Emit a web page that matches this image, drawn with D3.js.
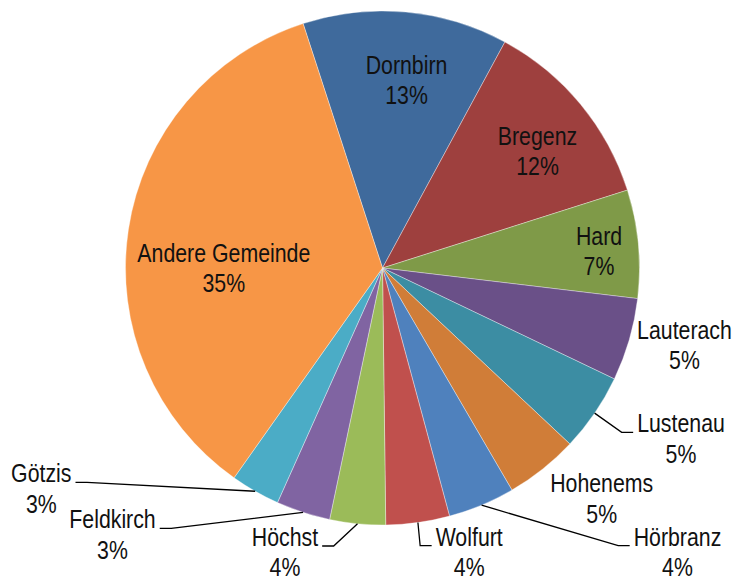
<!DOCTYPE html>
<html>
<head>
<meta charset="utf-8">
<script src="https://cdn.jsdelivr.net/npm/d3@7"></script>
<style>
  html, body { margin: 0; padding: 0; background: #fff; }
  svg { display: block; }
  text { font-family: "Liberation Sans Narrow", "Arial Narrow", "Liberation Sans", Arial, sans-serif; font-size: 26px; fill: #111; }
</style>
</head>
<body>
<svg id="chart" width="748" height="582"></svg>
<script>
// ---- data ----
const categories = ["Dornbirn", "Bregenz", "Hard", "Lauterach", "Lustenau", "Hohenems",
                    "Hörbranz", "Wolfurt", "Höchst", "Feldkirch", "Götzis", "Andere Gemeinde"];
const shares = [12.9, 12.2, 6.8, 5.2, 4.9, 4.6, 4.2, 4.0, 3.5, 3.4, 3.1, 35.2];
const colors = ["#3F6A9C", "#9E403E", "#7F9A48", "#6A5088", "#3C8DA3", "#D07D38",
                "#4F81BD", "#C0504D", "#9BBB59", "#8064A2", "#4BACC6", "#F79646"];

// ---- layout (label anchors: x centre, first-line baseline, leader side) ----
const labelLayout = [
  { x: 406.5, y: 73.5 },
  { x: 537.5, y: 145 },
  { x: 599,   y: 245 },
  { x: 684.5, y: 338.5 },
  { x: 681,   y: 432.3, leader: "left" },
  { x: 601.7, y: 492.3 },
  { x: 677.5, y: 545.7, leader: "left" },
  { x: 469.2, y: 545.7, leader: "left" },
  { x: 285,   y: 546,   leader: "right" },
  { x: 112.5, y: 528.3, leader: "right" },
  { x: 41.3,  y: 482.3, leader: "right" },
  { x: 223.8, y: 261.7 }
];

const cx = 382.5, cy = 268, R = 257;
const lineH = 30.5;
const deg = Math.PI / 180;

const svg = d3.select("#chart");
const g = svg.append("g").attr("transform", `translate(${cx},${cy})`);

const data = categories.map((c, i) => ({ name: c, value: shares[i], color: colors[i], lay: labelLayout[i] }));

const pie = d3.pie().value(d => d.value).sort(null)
  .startAngle(-18 * deg).endAngle(342 * deg);
const arcs = pie(data);
const arc = d3.arc().innerRadius(0).outerRadius(R);

g.selectAll("path.slice").data(arcs).enter().append("path")
  .attr("class", "slice")
  .attr("d", arc)
  .attr("fill", d => d.data.color)
  .attr("stroke", "#ffffff")
  .attr("stroke-opacity", 0.6)
  .attr("stroke-width", 0.6);

// measure to detect narrow font availability
const probe = svg.append("text").text("Lustenau");
const w = probe.node().getComputedTextLength();
probe.remove();
const targetW = 87.7;
const sx = (w > 0) ? Math.min(1, targetW / w) : 1;

const labels = svg.append("g");
arcs.forEach(a => {
  const L = a.data.lay;
  const t = labels.append("g").attr("transform", `translate(${L.x},${L.y}) scale(${sx},1)`);
  t.append("text").attr("text-anchor", "middle").attr("x", 0).attr("y", 0).text(a.data.name);
  t.append("text").attr("text-anchor", "middle").attr("x", 0).attr("y", lineH)
    .text(Math.round(a.data.value) + "%");

  if (L.leader) {
    const tw = t.select("text").node().getComputedTextLength() * sx;
    const mid = (a.startAngle + a.endAngle) / 2;
    const px = cx + R * Math.sin(mid), py = cy - R * Math.cos(mid);
    const gap = 4, hl = 11.5;
    let x1, x2;
    if (L.leader === "left") { x1 = L.x - tw / 2 - gap; x2 = x1 - hl; }
    else { x1 = L.x + tw / 2 + gap; x2 = x1 + hl; }
    svg.append("polyline")
      .attr("points", `${x1},${L.y} ${x2},${L.y} ${px},${py}`)
      .attr("fill", "none").attr("stroke", "#000").attr("stroke-width", 1.3);
  }
});
</script>
</body>
</html>
